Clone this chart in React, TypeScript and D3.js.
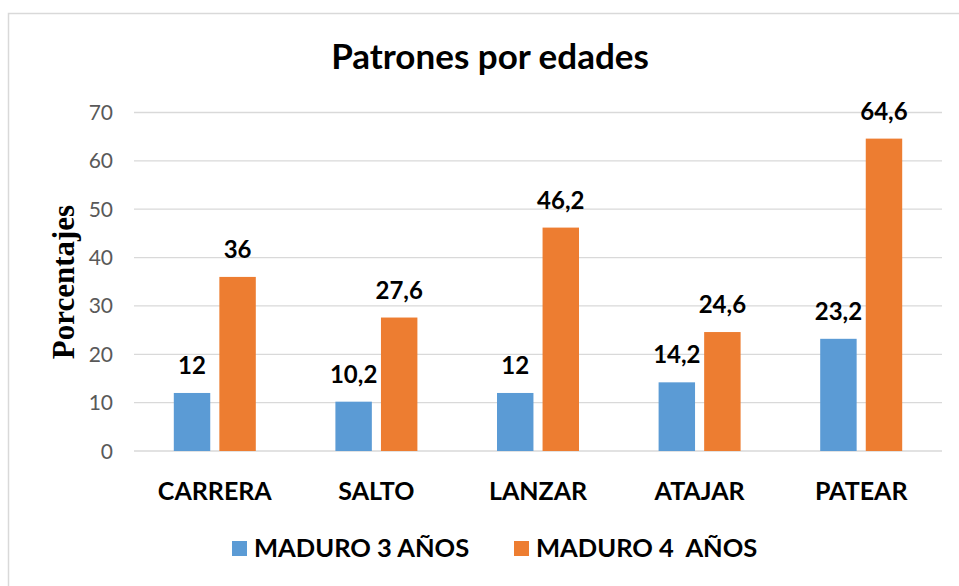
import * as d3 from "d3";

const categories = ["CARRERA", "SALTO", "LANZAR", "ATAJAR", "PATEAR"];
const seriesNames = ["MADURO 3 AÑOS", "MADURO 4  AÑOS"];
const maduro3 = [12, 10.2, 12, 14.2, 23.2];
const maduro4 = [36, 27.6, 46.2, 24.6, 64.6];
const yTicks = [0, 10, 20, 30, 40, 50, 60, 70];
const colors = ["#5B9BD5", "#ED7D31"];

const W = 959;
const H = 586;
const font = "Lato, 'Open Sans', sans-serif";

const fmt = (v: number) => String(v).replace(".", ",");

export default function App() {
  const x = d3.scaleBand<string>().domain(categories).range([134, 942]);
  const y = d3.scaleLinear().domain([0, 70]).range([451, 112.5]);
  const series = [maduro3, maduro4];

  return (
    <svg
      width={W}
      height={H}
      style={{ position: "absolute", left: 0, top: 0, background: "#fff" }}
    >
      <rect x={8.5} y={13.5} width={970} height={600} fill="#fff" stroke="#D9D9D9" strokeWidth={1.5} />
      <text x={490} y={69} textAnchor="middle" fontFamily={font} fontWeight="bold" fontSize={35} fill="#000">
        Patrones por edades
      </text>

      {yTicks.map((t) => (
        <g key={t}>
          <line x1={134} x2={942} y1={y(t)} y2={y(t)} stroke="#D9D9D9" strokeWidth={1.3} />
          <text x={113} y={y(t)} dy="0.36em" textAnchor="end" fontFamily={font} fontSize={21} fill="#595959">
            {t}
          </text>
        </g>
      ))}

      <text
        transform={`translate(74,282) rotate(-90)`}
        textAnchor="middle"
        fontFamily="'Liberation Serif', 'Times New Roman', serif"
        fontWeight="bold"
        fontSize={31}
        fill="#000"
      >
        Porcentajes
      </text>

      {categories.map((c, i) => {
        const center = (x(c) as number) + x.bandwidth() / 2;
        const x1 = d3
          .scaleBand<number>()
          .domain([0, 1])
          .range([center - 41, center + 41])
          .paddingInner(0.2);
        return (
          <g key={c}>
            {series.map((s, k) => (
              <g key={k}>
                <rect
                  x={x1(k)}
                  y={y(s[i])}
                  width={x1.bandwidth()}
                  height={y(0) - y(s[i])}
                  fill={colors[k]}
                />
                <text
                  x={(x1(k) as number) + x1.bandwidth() / 2}
                  y={y(s[i]) - 19}
                  textAnchor="middle"
                  fontFamily={font}
                  fontWeight="bold"
                  fontSize={24}
                  fill="#000"
                >
                  {fmt(s[i])}
                </text>
              </g>
            ))}
            <text x={center} y={500} textAnchor="middle" fontFamily={font} fontWeight="bold" fontSize={25} fill="#000">
              {c}
            </text>
          </g>
        );
      })}

      {seriesNames.map((n, k) => {
        const lx = [232, 514][k];
        return (
          <g key={n}>
            <rect x={lx} y={541} width={15} height={15} fill={colors[k]} />
            <text x={lx + 22} y={557} fontFamily={font} fontWeight="bold" fontSize={25.5} fill="#000" style={{ whiteSpace: "pre" }}>
              {n}
            </text>
          </g>
        );
      })}
    </svg>
  );
}
